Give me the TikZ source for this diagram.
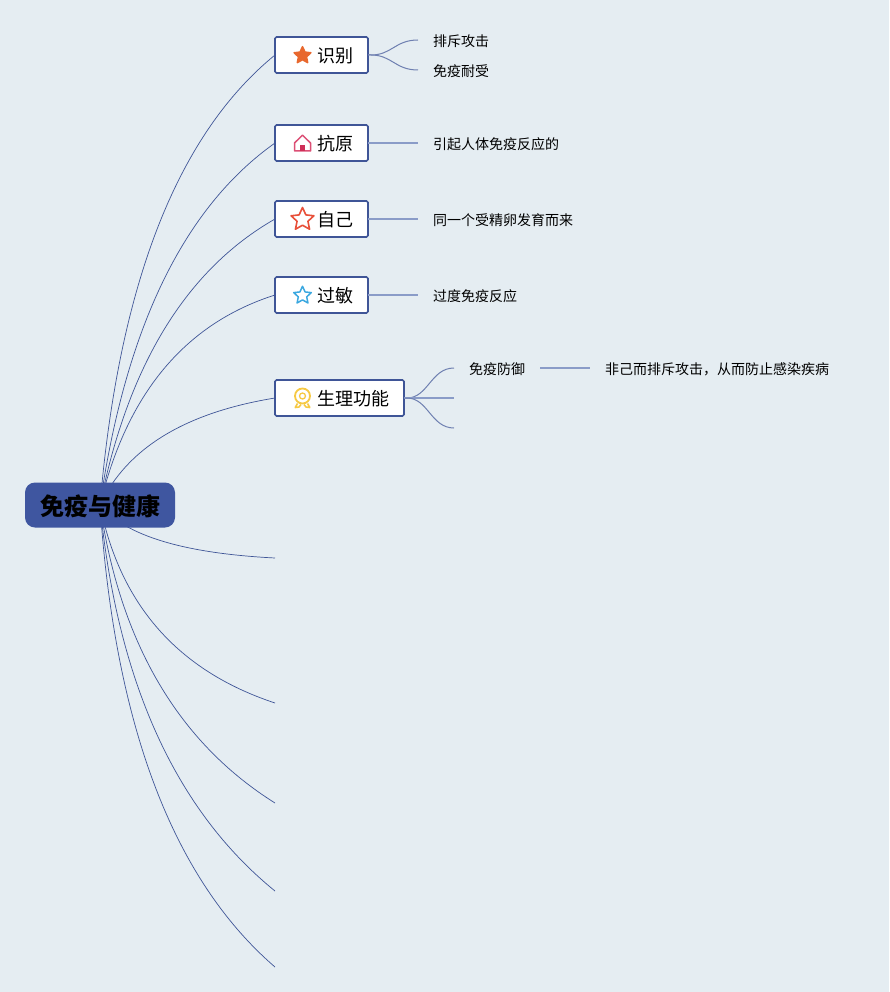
\documentclass[tikz,border=0pt]{standalone}
\usepackage{fontspec}
\setmainfont{Noto Sans CJK SC}
\usetikzlibrary{shapes.geometric,calc}
\definecolor{bgc}{HTML}{E5EDF2}
\definecolor{linec}{HTML}{3F5597}
\definecolor{rootfill}{HTML}{3F56A0}
\definecolor{stemc}{HTML}{8A9CC8}
\definecolor{icoorange}{HTML}{E8682E}
\definecolor{icored}{HTML}{E8503A}
\definecolor{icoblue}{HTML}{3BA8E0}
\definecolor{icopink}{HTML}{DC4F75}
\definecolor{icodoor}{HTML}{CF2F58}
\definecolor{icogold}{HTML}{F6C944}
\pgfdeclarelayer{bg}
\pgfsetlayers{bg,main}
\tikzset{
  topic/.style={draw=linec,line width=1.6pt,fill=white,rounded corners=1.5pt,minimum height=36pt,inner sep=0pt,outer sep=0pt,anchor=west},
  lab/.style={font=\fontsize{18pt}{20pt}\selectfont,anchor=west,inner sep=0pt},
  leaf/.style={font=\fontsize{14pt}{16pt}\selectfont,anchor=west,inner sep=0pt},
  branch/.style={draw=linec,line width=0.7pt},
  sub/.style={draw=linec!75!white,line width=1pt},
  stem/.style={draw=stemc,line width=1.5pt},
  icon/.style={star,star points=5,star point ratio=2.1,inner sep=0pt,line join=round}
}
\newcommand{\qbranch}[2]{\draw[branch] (rootc) .. controls ($(rootc)!0.667!(#1)$) and ($(#2)!0.667!(#1)$) .. (#2);}
\begin{document}
\begin{tikzpicture}[x=1pt,y=-1pt]
\useasboundingbox (0,0) rectangle (889,992);
\begin{pgfonlayer}{bg}
\fill[bgc] (0,0) rectangle (889,992);
\end{pgfonlayer}
\node[fill=rootfill,rounded corners=10pt,minimum width=150pt,minimum height=45pt,inner sep=0pt] (root) at (100,505) {};
\node[inner sep=0pt,font=\fontsize{24pt}{26pt}\selectfont\bfseries] (rootlabel) at (100,506.5) {免疫与健康};
\coordinate (rootc) at (100,505);
% topics
\node[topic,minimum width=93pt] (t1) at (275,55) {};
\node[topic,minimum width=93pt] (t2) at (275,143) {};
\node[topic,minimum width=93pt] (t3) at (275,219) {};
\node[topic,minimum width=93pt] (t4) at (275,295) {};
\node[topic,minimum width=129pt] (t5) at (275,398) {};
\node[lab] (l1) at (317,56) {识别};
\node[lab] (l2) at (317,144) {抗原};
\node[lab] (l3) at (317.5,220) {自己};
\node[lab] (l4) at (317,296) {过敏};
\node[lab] (l5) at (317,399) {生理功能};
% icons
\node[icon,fill=icoorange,draw=icoorange,line width=1.6pt,minimum size=17.5pt] (i1) at (302.5,55.5) {};
\node[icon,draw=icored,line width=1.6pt,minimum size=24pt] (i3) at (302.5,219.5) {};
\node[icon,draw=icoblue,line width=1.5pt,minimum size=18.5pt] (i4) at (302.5,295.5) {};
% house icon
\draw[draw=icopink,line width=1.5pt,line join=round] (294.5,143) -- (302.5,135.2) -- (310.5,143) -- (310.5,151) -- (294.5,151) -- cycle;
\fill[icodoor] (300.2,145.5) rectangle (304.8,151);
% medal icon
\node[circle,draw=icogold,line width=1.8pt,minimum size=15pt,inner sep=0pt] (m1) at (302.5,396) {};
\node[circle,draw=icogold,line width=1.3pt,minimum size=6pt,inner sep=0pt] (m2) at (302.5,396) {};
\draw[draw=icogold,line width=1.6pt,line join=round] (297.5,403.5) -- (295.2,407.5) -- (299,407) -- (301,404.5)  (307.5,403.5) -- (309.8,407.5) -- (306,407) -- (304,404.5);
% leaves
\node[leaf] (a1) at (433,41) {排斥攻击};
\node[leaf] (a2) at (433,71) {免疫耐受};
\node[leaf] (b)  at (433,144) {引起人体免疫反应的};
\node[leaf] (c)  at (433,220) {同一个受精卵发育而来};
\node[leaf] (d)  at (433,296) {过度免疫反应};
\node[leaf] (e1) at (469,369) {免疫防御};
\node[leaf] (e2) at (605,369) {非己而排斥攻击，从而防止感染疾病};
% free ends
\coordinate (ea1) at (418,40);
\coordinate (ea2) at (418,70);
\coordinate (eb) at (418,143);
\coordinate (ec) at (418,219);
\coordinate (ed) at (418,295);
\coordinate (ee1) at (454,368);
\coordinate (ee2) at (454,398);
\coordinate (ee3) at (454,428);
\coordinate (fe1) at (540,368);
\coordinate (fe2) at (590,368);
\coordinate (n6) at (275,558);
\coordinate (n7) at (275,703);
\coordinate (n8) at (275,803);
\coordinate (n9) at (275,891);
\coordinate (n10) at (275,967);
\begin{pgfonlayer}{bg}
\qbranch{128,175}{t1.west}
\qbranch{138,240}{t2.west}
\qbranch{142,295}{t3.west}
\qbranch{140,338}{t4.west}
\qbranch{140,420}{t5.west}
\qbranch{138,551}{n6}
\qbranch{130,655}{n7}
\qbranch{130,712}{n8}
\qbranch{126,770}{n9}
\qbranch{122,835}{n10}
\end{pgfonlayer}
\draw[sub] (t1.east) -- ++(3,0) .. controls (392,55) and (395,40) .. (ea1);
\draw[sub] (t1.east) -- ++(3,0) .. controls (392,55) and (395,70) .. (ea2);
\draw[stem] (t2.east) -- (eb);
\draw[stem] (t3.east) -- (ec);
\draw[stem] (t4.east) -- (ed);
\draw[sub] (t5.east) -- ++(3,0) .. controls (428,398) and (431,368) .. (ee1);
\draw[stem] (t5.east) -- (ee2);
\draw[sub] (t5.east) -- ++(3,0) .. controls (428,398) and (431,428) .. (ee3);
\draw[stem] (fe1) -- (fe2);
\end{tikzpicture}
\end{document}
